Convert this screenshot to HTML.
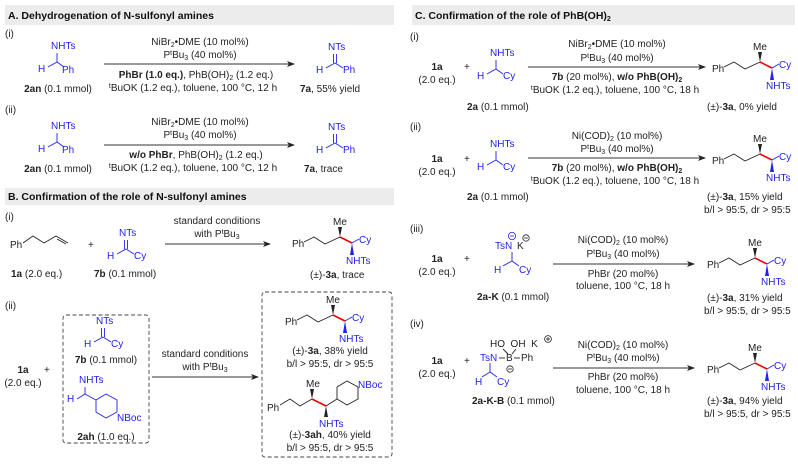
<!DOCTYPE html>
<html><head><meta charset="utf-8"><style>
html,body{margin:0;padding:0;background:#fff;}
svg{display:block;font-family:"Liberation Sans",Arial,sans-serif;}
.t{font-size:10px;fill:#222;}
.b{fill:#2222ee;}
.h{font-size:10.5px;font-weight:bold;fill:#111;}
.bl{stroke:#222;stroke-width:0.9;fill:none;}
.bb{stroke:#2222ee;stroke-width:0.9;fill:none;}
.rd{stroke:#e00;stroke-width:1.6;}
.ar{stroke:#333;stroke-width:0.9;}
.m{text-anchor:middle;}
.dash{fill:none;stroke:#444;stroke-width:0.9;stroke-dasharray:4,2.5;}
</style></head><body>
<svg width="798" height="468" viewBox="0 0 798 468" xmlns="http://www.w3.org/2000/svg">
<defs>
<marker id="ah" markerWidth="8" markerHeight="6" refX="7" refY="3" orient="auto" markerUnits="userSpaceOnUse"><path d="M0,0 L8,3 L0,6 L2,3 Z" fill="#222"/></marker>
<g id="p3a">
  <text class="t" x="0" y="0">Ph</text>
  <polyline class="bl" points="12,-5 22,-10 33,-3 48,-10"/>
  <polygon points="48,-10 46,-20 50,-20" fill="#222"/>
  <text class="t" x="41" y="-22">Me</text>
  <line class="rd" x1="48" y1="-10" x2="60" y2="-4"/>
  <line class="bb" x1="60" y1="-4" x2="67" y2="-8"/>
  <text class="t b" x="67" y="-4">Cy</text>
  <polygon points="60,-4 58,8 62,8" fill="#2222ee"/>
  <text class="t b" x="54" y="17">NHTs</text>
</g>
<g id="imine">
  <text class="t b" x="-7" y="0">NTs</text>
  <line class="bb" x1="-1.5" y1="4" x2="-1.5" y2="13"/><line class="bb" x1="1.5" y1="4" x2="1.5" y2="13"/>
  <line class="bb" x1="0" y1="13" x2="-9" y2="18"/><line class="bb" x1="0" y1="13" x2="8" y2="18"/>
  <text class="t b" x="-19" y="23">H</text>
</g>
<g id="amine">
  <text class="t b" x="-6" y="0">NHTs</text>
  <line class="bb" x1="0" y1="4" x2="0" y2="13"/>
  <line class="bb" x1="0" y1="13" x2="-9" y2="18"/><line class="bb" x1="0" y1="13" x2="7" y2="18"/>
  <text class="t b" x="-19" y="23">H</text>
</g>
</defs>

<!-- Panel A -->
<rect x="5" y="5" width="389" height="20" fill="#ececec"/>
<text class="h" x="8" y="19">A. Dehydrogenation of N-sulfonyl amines</text>
<text class="t" x="5" y="37">(i)</text>
<use href="#amine" x="57" y="49"/><text class="t b" x="62" y="73">Ph</text>
<text class="t m" x="58" y="92"><tspan font-weight="bold">2an</tspan> (0.1 mmol)</text>
<line class="ar" x1="104" y1="64" x2="294" y2="64" marker-end="url(#ah)"/>
<text class="t m" x="200" y="45">NiBr<tspan font-size="7" dy="2">2</tspan><tspan dy="-2">•DME (10 mol%)</tspan></text>
<text class="t m" x="200" y="58">P<tspan font-size="7" dy="-3">t</tspan><tspan dy="3">Bu</tspan><tspan font-size="7" dy="2">3</tspan><tspan dy="-2"> (40 mol%)</tspan></text>
<text class="t m" x="196" y="78"><tspan font-weight="bold">PhBr (1.0 eq.)</tspan>, PhB(OH)<tspan font-size="7" dy="2">2</tspan><tspan dy="-2"> (1.2 eq.)</tspan></text>
<text class="t m" x="193" y="91"><tspan font-size="7" dy="-3">t</tspan><tspan dy="3">BuOK (1.2 eq.), toluene, 100 °C, 12 h</tspan></text>
<use href="#imine" x="335" y="50"/><text class="t b" x="343" y="73">Ph</text>
<text class="t" x="300" y="92"><tspan font-weight="bold">7a</tspan>, 55% yield</text>

<text class="t" x="5" y="113">(ii)</text>
<use href="#amine" x="57" y="129"/><text class="t b" x="62" y="153">Ph</text>
<text class="t m" x="58" y="172"><tspan font-weight="bold">2an</tspan> (0.1 mmol)</text>
<line class="ar" x1="104" y1="145" x2="294" y2="145" marker-end="url(#ah)"/>
<text class="t m" x="200" y="125">NiBr<tspan font-size="7" dy="2">2</tspan><tspan dy="-2">•DME (10 mol%)</tspan></text>
<text class="t m" x="200" y="138">P<tspan font-size="7" dy="-3">t</tspan><tspan dy="3">Bu</tspan><tspan font-size="7" dy="2">3</tspan><tspan dy="-2"> (40 mol%)</tspan></text>
<text class="t m" x="196" y="158"><tspan font-weight="bold">w/o PhBr</tspan>, PhB(OH)<tspan font-size="7" dy="2">2</tspan><tspan dy="-2"> (1.2 eq.)</tspan></text>
<text class="t m" x="193" y="171"><tspan font-size="7" dy="-3">t</tspan><tspan dy="3">BuOK (1.2 eq.), toluene, 100 °C, 12 h</tspan></text>
<use href="#imine" x="335" y="130"/><text class="t b" x="343" y="153">Ph</text>
<text class="t" x="304" y="172"><tspan font-weight="bold">7a</tspan>, trace</text>

<!-- Panel B -->
<rect x="5" y="188" width="389" height="17" fill="#ececec"/>
<text class="h" x="8" y="200">B. Confirmation of the role of N-sulfonyl amines</text>
<text class="t" x="5" y="220">(i)</text>
<text class="t" x="10" y="248">Ph</text>
<polyline class="bl" points="23,243 33,236 44,243 56,236 68,243"/>
<line class="bl" x1="57" y1="239" x2="66" y2="244"/>
<text class="t" x="88" y="248">+</text>
<use href="#imine" x="126" y="236"/><text class="t b" x="134" y="259">Cy</text>
<text class="t" x="11" y="277"><tspan font-weight="bold">1a</tspan> (2.0 eq.)</text>
<text class="t" x="94" y="277"><tspan font-weight="bold">7b</tspan> (0.1 mmol)</text>
<line class="ar" x1="165" y1="244" x2="270" y2="244" marker-end="url(#ah)"/>
<text class="t m" x="217" y="224">standard conditions</text>
<text class="t m" x="217" y="237">with P<tspan font-size="7" dy="-3">t</tspan><tspan dy="3">Bu</tspan><tspan font-size="7" dy="2">3</tspan></text>
<use href="#p3a" x="292" y="247"/>
<text class="t" x="310" y="278">(±)-<tspan font-weight="bold">3a</tspan>, trace</text>

<text class="t" x="5" y="309">(ii)</text>
<text class="t m" x="23" y="373" font-weight="bold">1a</text>
<text class="t m" x="23" y="386">(2.0 eq.)</text>
<text class="t" x="44" y="373">+</text>
<rect class="dash" x="63" y="315" width="86" height="128" rx="3"/>
<use href="#imine" x="103" y="324"/><text class="t b" x="111" y="347">Cy</text>
<text class="t m" x="106" y="363"><tspan font-weight="bold">7b</tspan> (0.1 mmol)</text>
<text class="t b" x="79" y="383">NHTs</text>
<line class="bb" x1="85" y1="387" x2="85" y2="394"/>
<line class="bb" x1="85" y1="394" x2="77" y2="399"/>
<text class="t b" x="67" y="402">H</text>
<polyline class="bb" points="85,394 96,400 106,394 117,400 117,412 106,418 96,412 96,400"/>
<text class="t b" x="117" y="421">NBoc</text>
<text class="t m" x="106" y="440"><tspan font-weight="bold">2ah</tspan> (1.0 eq.)</text>
<line class="ar" x1="152" y1="377" x2="258" y2="377" marker-end="url(#ah)"/>
<text class="t m" x="205" y="357">standard conditions</text>
<text class="t m" x="205" y="370">with P<tspan font-size="7" dy="-3">t</tspan><tspan dy="3">Bu</tspan><tspan font-size="7" dy="2">3</tspan></text>
<rect class="dash" x="262" y="292" width="130" height="165" rx="3"/>
<use href="#p3a" x="285" y="325"/>
<text class="t m" x="330" y="354">(±)-<tspan font-weight="bold">3a</tspan>, 38% yield</text>
<text class="t m" x="330" y="367">b/l &gt; 95:5, dr &gt; 95:5</text>
<text class="t" x="267" y="411">Ph</text>
<polyline class="bl" points="280,405 290,399 300,406 312,399"/>
<polygon points="312,399 310,389 314,389" fill="#222"/>
<text class="t" x="306" y="387">Me</text>
<line class="rd" x1="312" y1="399" x2="326" y2="406"/>
<line class="bl" x1="326" y1="406" x2="337" y2="399"/>
<polyline class="bl" points="337,399 337,387 347,381 358,387 358,399 347,405 337,399"/>
<text class="t b" x="358" y="388">NBoc</text>
<polygon points="326,406 324,417 328,417" fill="#222"/>
<text class="t b" x="319" y="427">NHTs</text>
<text class="t m" x="330" y="438">(±)-<tspan font-weight="bold">3ah</tspan>, 40% yield</text>
<text class="t m" x="330" y="451">b/l &gt; 95:5, dr &gt; 95:5</text>

<!-- Panel C -->
<rect x="412" y="5" width="383" height="20" fill="#ececec"/>
<text class="h" x="415" y="19">C. Confirmation of the role of PhB(OH)<tspan font-size="7" dy="2">2</tspan></text>

<text class="t" x="410" y="40">(i)</text>
<text class="t m" x="437" y="70" font-weight="bold">1a</text>
<text class="t m" x="437" y="83">(2.0 eq.)</text>
<text class="t" x="464" y="70">+</text>
<use href="#amine" x="496" y="56"/><text class="t b" x="503" y="79">Cy</text>
<text class="t" x="467" y="110"><tspan font-weight="bold">2a</tspan> (0.1 mmol)</text>
<line class="ar" x1="528" y1="67" x2="705" y2="67" marker-end="url(#ah)"/>
<text class="t m" x="617" y="47">NiBr<tspan font-size="7" dy="2">2</tspan><tspan dy="-2">•DME (10 mol%)</tspan></text>
<text class="t m" x="617" y="61">P<tspan font-size="7" dy="-3">t</tspan><tspan dy="3">Bu</tspan><tspan font-size="7" dy="2">3</tspan><tspan dy="-2"> (40 mol%)</tspan></text>
<text class="t m" x="617" y="80"><tspan font-weight="bold">7b</tspan> (20 mol%), <tspan font-weight="bold">w/o PhB(OH)</tspan><tspan font-weight="bold" font-size="7" dy="2">2</tspan></text>
<text class="t m" x="615" y="93"><tspan font-size="7" dy="-3">t</tspan><tspan dy="3">BuOK (1.2 eq.), toluene, 100 °C, 18 h</tspan></text>
<use href="#p3a" x="712" y="72"/>
<text class="t" x="707" y="110">(±)-<tspan font-weight="bold">3a</tspan>, 0% yield</text>

<text class="t" x="410" y="130">(ii)</text>
<text class="t m" x="437" y="162" font-weight="bold">1a</text>
<text class="t m" x="437" y="175">(2.0 eq.)</text>
<text class="t" x="464" y="162">+</text>
<use href="#amine" x="496" y="147"/><text class="t b" x="503" y="170">Cy</text>
<text class="t" x="467" y="200"><tspan font-weight="bold">2a</tspan> (0.1 mmol)</text>
<line class="ar" x1="528" y1="158" x2="705" y2="158" marker-end="url(#ah)"/>
<text class="t m" x="617" y="139">Ni(COD)<tspan font-size="7" dy="2">2</tspan><tspan dy="-2"> (10 mol%)</tspan></text>
<text class="t m" x="617" y="152">P<tspan font-size="7" dy="-3">t</tspan><tspan dy="3">Bu</tspan><tspan font-size="7" dy="2">3</tspan><tspan dy="-2"> (40 mol%)</tspan></text>
<text class="t m" x="617" y="171"><tspan font-weight="bold">7b</tspan> (20 mol%), <tspan font-weight="bold">w/o PhB(OH)</tspan><tspan font-weight="bold" font-size="7" dy="2">2</tspan></text>
<text class="t m" x="615" y="184"><tspan font-size="7" dy="-3">t</tspan><tspan dy="3">BuOK (1.2 eq.), toluene, 100 °C, 18 h</tspan></text>
<use href="#p3a" x="712" y="164"/>
<text class="t" x="707" y="200">(±)-<tspan font-weight="bold">3a</tspan>, 15% yield</text>
<text class="t" x="704" y="213">b/l &gt; 95:5, dr &gt; 95:5</text>

<text class="t" x="410" y="232">(iii)</text>
<text class="t m" x="437" y="262" font-weight="bold">1a</text>
<text class="t m" x="437" y="275">(2.0 eq.)</text>
<text class="t" x="464" y="262">+</text>
<circle cx="512" cy="236" r="3.6" fill="none" stroke="#2222ee" stroke-width="0.8"/><line x1="510" y1="236" x2="514" y2="236" stroke="#2222ee" stroke-width="0.8"/>
<circle cx="526" cy="238" r="3.2" fill="none" stroke="#222" stroke-width="0.8"/><line x1="524" y1="238" x2="528" y2="238" stroke="#222" stroke-width="0.8"/>
<text class="t b" x="495" y="249">TsN</text><text class="t" x="517" y="249">K</text>
<line class="bb" x1="512" y1="252" x2="512" y2="261"/>
<line class="bb" x1="512" y1="261" x2="503" y2="266"/><line class="bb" x1="512" y1="261" x2="519" y2="266"/>
<text class="t b" x="494" y="273">H</text><text class="t b" x="519" y="273">Cy</text>
<text class="t" x="477" y="300"><tspan font-weight="bold">2a-K</tspan> (0.1 mmol)</text>
<line class="ar" x1="553" y1="264" x2="694" y2="264" marker-end="url(#ah)"/>
<text class="t m" x="623" y="243">Ni(COD)<tspan font-size="7" dy="2">2</tspan><tspan dy="-2"> (10 mol%)</tspan></text>
<text class="t m" x="623" y="257">P<tspan font-size="7" dy="-3">t</tspan><tspan dy="3">Bu</tspan><tspan font-size="7" dy="2">3</tspan><tspan dy="-2"> (40 mol%)</tspan></text>
<text class="t m" x="623" y="277">PhBr (20 mol%)</text>
<text class="t m" x="623" y="289">toluene, 100 °C, 18 h</text>
<use href="#p3a" x="707" y="268"/>
<text class="t" x="707" y="301">(±)-<tspan font-weight="bold">3a</tspan>, 31% yield</text>
<text class="t" x="704" y="314">b/l &gt; 95:5, dr &gt; 95:5</text>

<text class="t" x="410" y="327">(iv)</text>
<text class="t m" x="437" y="364" font-weight="bold">1a</text>
<text class="t m" x="437" y="377">(2.0 eq.)</text>
<text class="t" x="464" y="364">+</text>
<text class="t" x="490" y="347">HO&#160;&#160;OH&#160;&#160;K</text>
<circle cx="548" cy="339" r="3.4" fill="none" stroke="#222" stroke-width="0.8"/><line x1="546" y1="339" x2="550" y2="339" stroke="#222" stroke-width="0.8"/><line x1="548" y1="337" x2="548" y2="341" stroke="#222" stroke-width="0.8"/>
<line class="bl" x1="503" y1="349" x2="508" y2="354"/><line class="bl" x1="516" y1="349" x2="512" y2="354"/>
<text class="t b" x="480" y="361">TsN</text>
<line class="bl" x1="499" y1="358" x2="505" y2="358"/>
<text class="t" x="506" y="361">B</text>
<line class="bl" x1="514" y1="358" x2="520" y2="358"/>
<text class="t" x="521" y="361">Ph</text>
<circle cx="510" cy="369" r="3.2" fill="none" stroke="#222" stroke-width="0.8"/><line x1="508" y1="369" x2="512" y2="369" stroke="#222" stroke-width="0.8"/>
<line class="bb" x1="490" y1="363" x2="490" y2="372"/>
<line class="bb" x1="490" y1="372" x2="482" y2="377"/><line class="bb" x1="490" y1="372" x2="497" y2="377"/>
<text class="t b" x="475" y="385">H</text><text class="t b" x="497" y="385">Cy</text>
<text class="t" x="472" y="404"><tspan font-weight="bold">2a-K-B</tspan> (0.1 mmol)</text>
<line class="ar" x1="553" y1="368" x2="694" y2="368" marker-end="url(#ah)"/>
<text class="t m" x="623" y="348">Ni(COD)<tspan font-size="7" dy="2">2</tspan><tspan dy="-2"> (10 mol%)</tspan></text>
<text class="t m" x="623" y="361">P<tspan font-size="7" dy="-3">t</tspan><tspan dy="3">Bu</tspan><tspan font-size="7" dy="2">3</tspan><tspan dy="-2"> (40 mol%)</tspan></text>
<text class="t m" x="623" y="380">PhBr (20 mol%)</text>
<text class="t m" x="623" y="393">toluene, 100 °C, 18 h</text>
<use href="#p3a" x="707" y="373"/>
<text class="t" x="707" y="404">(±)-<tspan font-weight="bold">3a</tspan>, 94% yield</text>
<text class="t" x="704" y="417">b/l &gt; 95:5, dr &gt; 95:5</text>
</svg>
</body></html>
